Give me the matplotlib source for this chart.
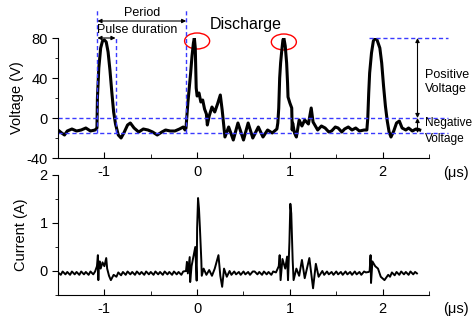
import matplotlib.pyplot as plt
from matplotlib.patches import Ellipse
from matplotlib.ticker import MultipleLocator

plt.rcParams['font.family'] = ['Liberation Sans', 'DejaVu Sans']
plt.rcParams['axes.unicode_minus'] = False

# voltage trace (us, V)
t_volt = [-1.5, -1.46, -1.43, -1.4, -1.35, -1.3, -1.25, -1.2, -1.15, -1.1, -1.08,
          -1.075, -1.06, -1.04, -1.02, -1.0, -0.98, -0.96, -0.94, -0.92, -0.9,
          -0.88, -0.85, -0.82, -0.79, -0.75, -0.72, -0.68, -0.63, -0.58, -0.53,
          -0.48, -0.43, -0.38, -0.34, -0.29, -0.24, -0.19, -0.15, -0.13, -0.12,
          -0.11, -0.1, -0.085, -0.07, -0.055, -0.04, -0.03, -0.02, -0.015, -0.01,
          0.0, 0.02, 0.04, 0.06, 0.08, 0.1, 0.11, 0.13, 0.16, 0.19, 0.22, 0.25,
          0.27, 0.3, 0.34, 0.39, 0.44, 0.5, 0.55, 0.6, 0.66, 0.71, 0.76, 0.81,
          0.86, 0.87, 0.88, 0.89, 0.9, 0.91, 0.925, 0.935, 0.95, 0.965, 0.975,
          0.98, 1.0, 1.02, 1.025, 1.03, 1.05, 1.07, 1.1, 1.13, 1.16, 1.2, 1.23,
          1.25, 1.3, 1.34, 1.38, 1.42, 1.45, 1.49, 1.52, 1.56, 1.59, 1.63, 1.67,
          1.71, 1.75, 1.8, 1.83, 1.84, 1.85, 1.86, 1.88, 1.9, 1.92, 1.94, 1.97,
          1.99, 2.01, 2.03, 2.05, 2.07, 2.09, 2.12, 2.15, 2.18, 2.21, 2.25, 2.28,
          2.32, 2.36, 2.4]
volt = [-12, -15, -17, -13, -11, -13, -12, -10, -13, -12, -10,
        20, 50, 70, 77, 78, 76, 66, 48, 26, 6,
        -6, -17, -20, -15, -7, -5, -10, -14, -11, -12,
        -14, -17, -14, -12, -13, -13, -11, -9, -12, -10,
        2, 15, 30, 45, 62, 75, 80, 70, 50, 30,
        22, 25, 16, 18, 9, 4, -7, 2, 11, 6, 14, 23,
        8, -19, -9, -22, -5, -22, -5, -20, -9, -19, -12, -15,
        -11, -5, 10, 40, 55, 65, 78, 80, 72, 55, 35,
        21, 15, 10, -12, -5, -15, -19, -2, -8, -2, -6, 10,
        -4, -12, -8, -10, -14, -13, -9, -10, -14, -11, -9, -12,
        -10, -13, -12, -12, 0, 25, 45, 65, 77, 80, 78, 70,
        55, 32, 12, -3, -14, -19, -13, -5, -3, -10, -12, -10,
        -13, -11, -12]

# current trace (us, A)
t_curr = [-1.5, -1.47, -1.45, -1.42, -1.4, -1.37, -1.35, -1.32, -1.3, -1.27,
          -1.25, -1.22, -1.2, -1.17, -1.15, -1.12, -1.1, -1.08,
          -1.07, -1.065, -1.06, -1.05, -1.04, -1.02, -1.0, -0.98, -0.97, -0.95,
          -0.93, -0.9, -0.87, -0.85, -0.82, -0.8, -0.77, -0.75, -0.72, -0.7,
          -0.67, -0.65, -0.62, -0.6, -0.57, -0.55, -0.52, -0.5, -0.47, -0.45,
          -0.42, -0.4, -0.37, -0.35, -0.32, -0.3, -0.27, -0.25, -0.22, -0.2,
          -0.17, -0.15, -0.12, -0.11, -0.1,
          -0.08, -0.075, -0.06, -0.04, -0.02, -0.005, 0.0, 0.01, 0.02, 0.03,
          0.045, 0.05, 0.07, 0.1, 0.13, 0.16, 0.19, 0.23, 0.25, 0.27, 0.29,
          0.32, 0.35, 0.37, 0.4, 0.42, 0.45, 0.47, 0.5, 0.52, 0.55, 0.57, 0.6,
          0.62, 0.65, 0.67, 0.7, 0.72, 0.75, 0.77, 0.8, 0.82, 0.85,
          0.88, 0.89, 0.9, 0.92, 0.95, 0.97, 0.98, 0.995, 1.005, 1.015, 1.025,
          1.03, 1.04, 1.07, 1.1, 1.13, 1.16, 1.21, 1.25, 1.28, 1.31, 1.35, 1.37,
          1.4, 1.42, 1.45, 1.47, 1.5, 1.52, 1.55, 1.57, 1.6, 1.62, 1.65, 1.67,
          1.7, 1.72, 1.75, 1.77, 1.8, 1.82, 1.85, 1.86, 1.87, 1.875,
          1.89, 1.92, 1.95, 1.98, 2.02, 2.06, 2.08, 2.1, 2.13, 2.15, 2.18, 2.2,
          2.23, 2.25, 2.28, 2.3, 2.33, 2.35, 2.37]
curr = [-0.03, -0.08, -0.01, -0.07, -0.02, -0.08, -0.01, -0.07, -0.02, -0.08,
        -0.01, -0.07, -0.02, -0.08, -0.01, -0.07, -0.01, 0.1,
        0.33, -0.19, 0.15, 0.2, 0.05, 0.18, 0.1, 0.27, 0.05, -0.1,
        -0.19, -0.08, -0.12, -0.03, -0.09, -0.02, -0.08, -0.01, -0.07, -0.02,
        -0.08, -0.01, -0.07, -0.02, -0.08, -0.01, -0.07, -0.02, -0.08, -0.01,
        -0.07, -0.02, -0.08, -0.01, -0.07, -0.02, -0.08, -0.01, -0.07, -0.02,
        -0.08, -0.01, 0.0, 0.19, -0.05,
        0.29, -0.23, 0.1, 0.3, 0.5, -0.2, 0.9, 1.52, 1.3, 0.9,
        0.23, -0.1, 0.05, -0.08, 0.02, -0.1, 0.05, 0.33, -0.1, -0.33, 0.05,
        -0.12, 0.0, -0.08, -0.01, -0.07, -0.02, -0.08, -0.01, -0.07, -0.02, -0.08, -0.01,
        -0.01, -0.07, -0.02, -0.08, -0.01, -0.07, -0.02, -0.08, -0.01, -0.03,
        0.1, 0.33, -0.19, 0.25, 0.05, 0.3, -0.19, 0.6, 1.4, 1.2, 0.5,
        0.23, -0.19, 0.05, -0.1, 0.23, -0.15, 0.27, -0.36, 0.15, -0.12, 0.0, -0.08,
        -0.01, -0.07, -0.02, -0.08, -0.01, -0.07, -0.02, -0.08, -0.01, -0.07, -0.02, -0.08,
        -0.01, -0.07, -0.02, -0.08, -0.01, -0.03, -0.02, 0.0, 0.33, -0.25,
        0.2, 0.1, 0.05, -0.12, -0.19, -0.08, -0.12, -0.03, -0.09, -0.02, -0.08, -0.01,
        -0.07, -0.02, -0.08, -0.01, -0.07, -0.02, -0.05]

blue = '#3a3aff'

fig = plt.figure(figsize=(4.74, 3.2), dpi=100)
ax1 = fig.add_axes([58 / 474, 162 / 320, 371 / 474, 120 / 320])
ax2 = fig.add_axes([58 / 474, 25 / 320, 371 / 474, 120 / 320])
ax2.patch.set_alpha(0)

for ax in (ax1, ax2):
    ax.spines['top'].set_visible(False)
    ax.spines['right'].set_visible(False)
    ax.set_xlim(-1.5, 2.5)
    ax.xaxis.set_major_locator(MultipleLocator(1))
    ax.xaxis.set_minor_locator(MultipleLocator(0.5))
    ax.tick_params(axis='x', which='both', direction='in', labelsize=10.5, pad=5)
    ax.tick_params(axis='x', which='major', length=4)
    ax.tick_params(axis='x', which='minor', length=3)
    ax.tick_params(axis='y', which='both', direction='out', labelsize=10.5)
    ax.tick_params(axis='y', which='major', length=4)
    ax.tick_params(axis='y', which='minor', length=2)

ax1.plot(t_volt, volt, color='black', lw=2.2)
ax1.set_ylim(-40, 80)
ax1.yaxis.set_major_locator(MultipleLocator(40))
ax1.yaxis.set_minor_locator(MultipleLocator(20))
ax1.set_ylabel('Voltage (V)', fontsize=10.5, labelpad=2)

ax2.plot(t_curr, curr, color='black', lw=1.4)
ax2.set_ylim(-0.5, 2)
ax2.yaxis.set_major_locator(MultipleLocator(1))
ax2.yaxis.set_minor_locator(MultipleLocator(0.5))
ax2.set_ylabel('Current (A)', fontsize=10.5, labelpad=8)

# guide lines
dash = dict(color=blue, lw=1, ls=(0, (3, 2)), clip_on=False)
ax1.plot([-1.5, 2.7], [0, 0], **dash)
ax1.plot([-1.5, 2.7], [-15, -15], **dash)
ax1.plot([1.85, 2.7], [80, 80], **dash)
ax1.plot([-1.075, -1.075], [-15, 108], **dash)
ax1.plot([-0.88, -0.88], [-15, 80], **dash)
ax1.plot([-0.118, -0.118], [-15, 108], **dash)

arr = dict(arrowstyle='<|-|>', color='black', lw=0.8, mutation_scale=6,
           shrinkA=0, shrinkB=0)
ax1.annotate('', xy=(-1.075, 97), xytext=(-0.118, 97), arrowprops=arr,
             annotation_clip=False)
ax1.annotate('', xy=(-1.075, 80), xytext=(-0.88, 80), arrowprops=arr,
             annotation_clip=False)
ax1.annotate('', xy=(2.376, 80), xytext=(2.376, 0), arrowprops=arr,
             annotation_clip=False)
ax1.annotate('', xy=(2.376, 0), xytext=(2.376, -15), arrowprops=arr,
             annotation_clip=False)

ax1.text(-0.59, 105, 'Period', ha='center', va='center', fontsize=9)
ax1.text(-0.645, 88, 'Pulse duration', ha='center', va='center', fontsize=9)
ax1.text(0.52, 93, 'Discharge', ha='center', va='center', fontsize=11.5)
ax1.text(2.46, 36, 'Positive\nVoltage', ha='left', va='center', fontsize=9,
         linespacing=1.3)
ax1.text(2.455, -13, 'Negative\nVoltage', ha='left', va='center', fontsize=8.6,
         linespacing=1.35)

for cx, cy in [(0.0, 77), (0.935, 76)]:
    ax1.add_patch(Ellipse((cx, cy), 0.27, 16, fill=False, edgecolor='red',
                          lw=1, clip_on=False))

fig.text(456 / 474, 1 - 173 / 320, '(\u03bcs)', ha='center', va='center', fontsize=10.5)
fig.text(456 / 474, 1 - 309 / 320, '(\u03bcs)', ha='center', va='center', fontsize=10.5)

fig.savefig('out.png', dpi=100)
